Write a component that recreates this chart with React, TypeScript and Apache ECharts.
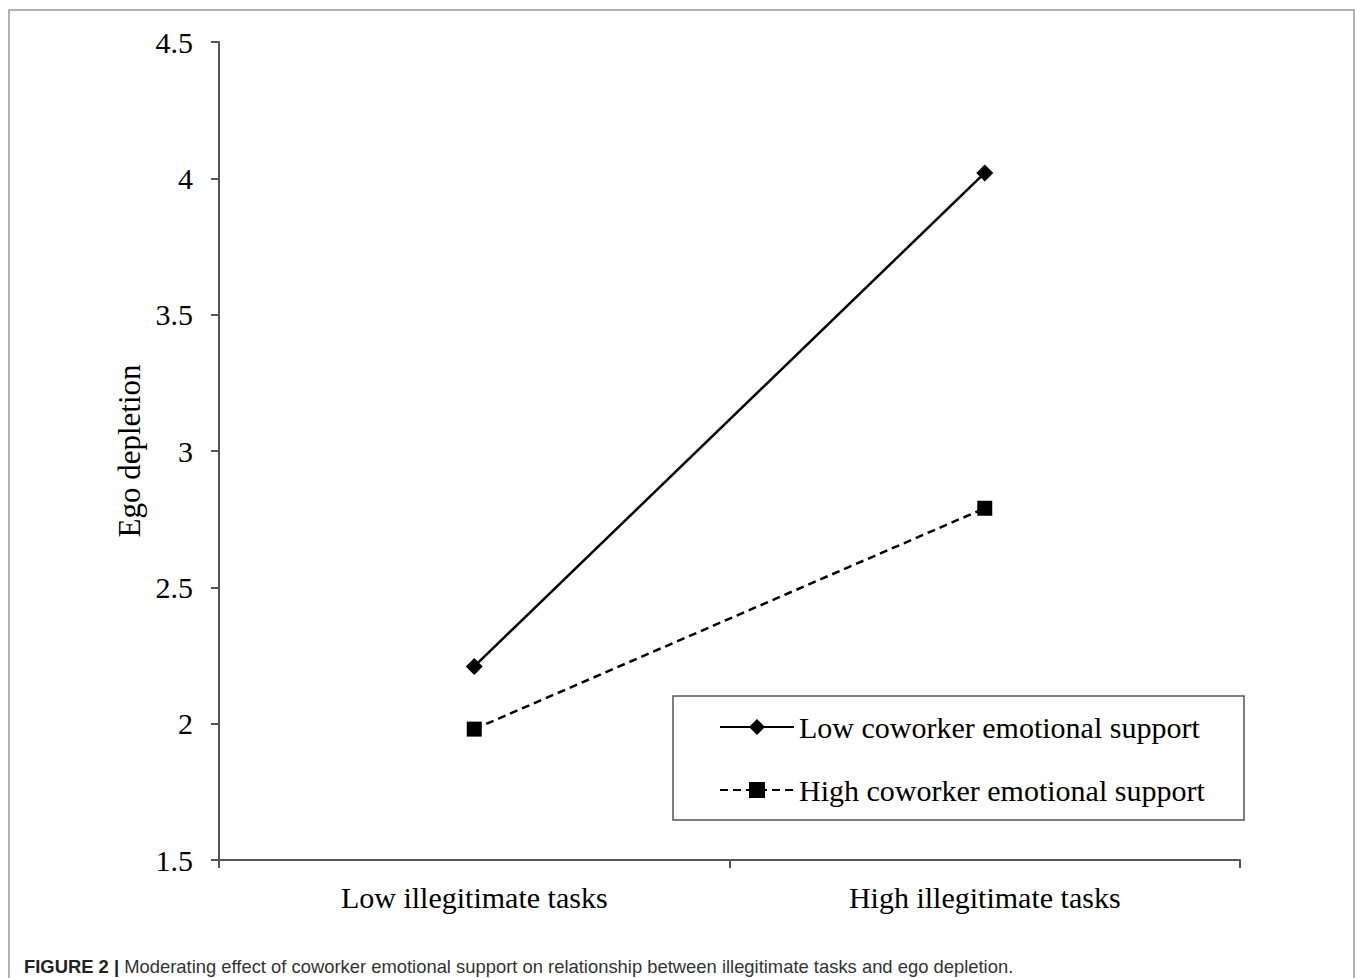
import React, { useEffect, useRef } from "react";
import * as echarts from "echarts";

const categories = ["Low illegitimate tasks", "High illegitimate tasks"];
const lowSupport = [2.21, 4.02];
const highSupport = [1.98, 2.79];
const seriesNames = ["Low coworker emotional support", "High coworker emotional support"];
const yTicks = { min: 1.5, max: 4.5, interval: 0.5 };
const yName = "Ego depletion";
const captionBold = "FIGURE 2 |";
const captionText = " Moderating effect of coworker emotional support on relationship between illegitimate tasks and ego depletion.";

const SERIF = "'Liberation Serif', 'Times New Roman', serif";
const SANS = "'Liberation Sans', Arial, sans-serif";

export default function App() {
  const ref = useRef<HTMLDivElement>(null);
  useEffect(() => {
    if (!ref.current) return;
    const chart = echarts.init(ref.current, null, { renderer: "svg" });
    chart.setOption({
      animation: false,
      backgroundColor: "#ffffff",
      grid: { left: 219, right: 115, top: 42, bottom: 118, containLabel: false },
      xAxis: {
        type: "category",
        data: categories,
        boundaryGap: true,
        axisLine: { lineStyle: { color: "#555", width: 2 } },
        axisTick: { show: true, inside: false, length: 8, lineStyle: { color: "#555", width: 2 } },
        axisLabel: { color: "#000", fontFamily: SERIF, fontSize: 30, margin: 22 },
        splitLine: { show: false },
      },
      yAxis: {
        type: "value",
        min: yTicks.min,
        max: yTicks.max,
        interval: yTicks.interval,
        name: yName,
        nameLocation: "middle",
        nameGap: 74,
        nameTextStyle: { color: "#000", fontFamily: SERIF, fontSize: 31 },
        axisLine: { show: true, lineStyle: { color: "#555", width: 2 } },
        axisTick: { show: true, length: 8, lineStyle: { color: "#555", width: 2 } },
        axisLabel: { color: "#000", fontFamily: SERIF, fontSize: 30, margin: 26 },
        splitLine: { show: false },
      },
      legend: {
        orient: "vertical",
        left: 714,
        top: 707,
        itemWidth: 74,
        itemHeight: 20,
        itemGap: 33,
        textStyle: { color: "#000", fontFamily: SERIF, fontSize: 30, padding: [0, 0, 0, 0] },
        data: seriesNames,
      },
      graphic: [
        {
          type: "rect",
          shape: { x: 9, y: 10, width: 1345, height: 1000 },
          style: { fill: "none", stroke: "#999", lineWidth: 1.5 },
          silent: true,
          z: -1,
        },
        {
          type: "rect",
          shape: { x: 673, y: 696, width: 571, height: 124 },
          style: { fill: "#fff", stroke: "#555", lineWidth: 1.5 },
          silent: true,
          z: 0,
        },
        {
          type: "text",
          left: 24,
          top: 957,
          style: {
            text: "{b|" + captionBold + "}{n|" + captionText + "}",
            rich: {
              b: { fontFamily: SANS, fontWeight: "bold", fontSize: 18.4, fill: "#222" },
              n: { fontFamily: SANS, fontSize: 18.4, fill: "#333" },
            },
          },
          silent: true,
        },
      ],
      series: [
        {
          name: seriesNames[0],
          type: "line",
          data: lowSupport,
          symbol: "diamond",
          symbolSize: 17,
          lineStyle: { color: "#000", width: 2.5, type: "solid" },
          itemStyle: { color: "#000" },
          z: 3,
        },
        {
          name: seriesNames[1],
          type: "line",
          data: highSupport,
          symbol: "rect",
          symbolSize: 15,
          lineStyle: { color: "#000", width: 2.5, type: [8, 5] },
          itemStyle: { color: "#000" },
          z: 3,
        },
      ],
    });
    return () => chart.dispose();
  }, []);
  return (
    <div
      ref={ref}
      style={{ position: "fixed", left: 0, top: 0, width: 1355, height: 978 }}
    />
  );
}
